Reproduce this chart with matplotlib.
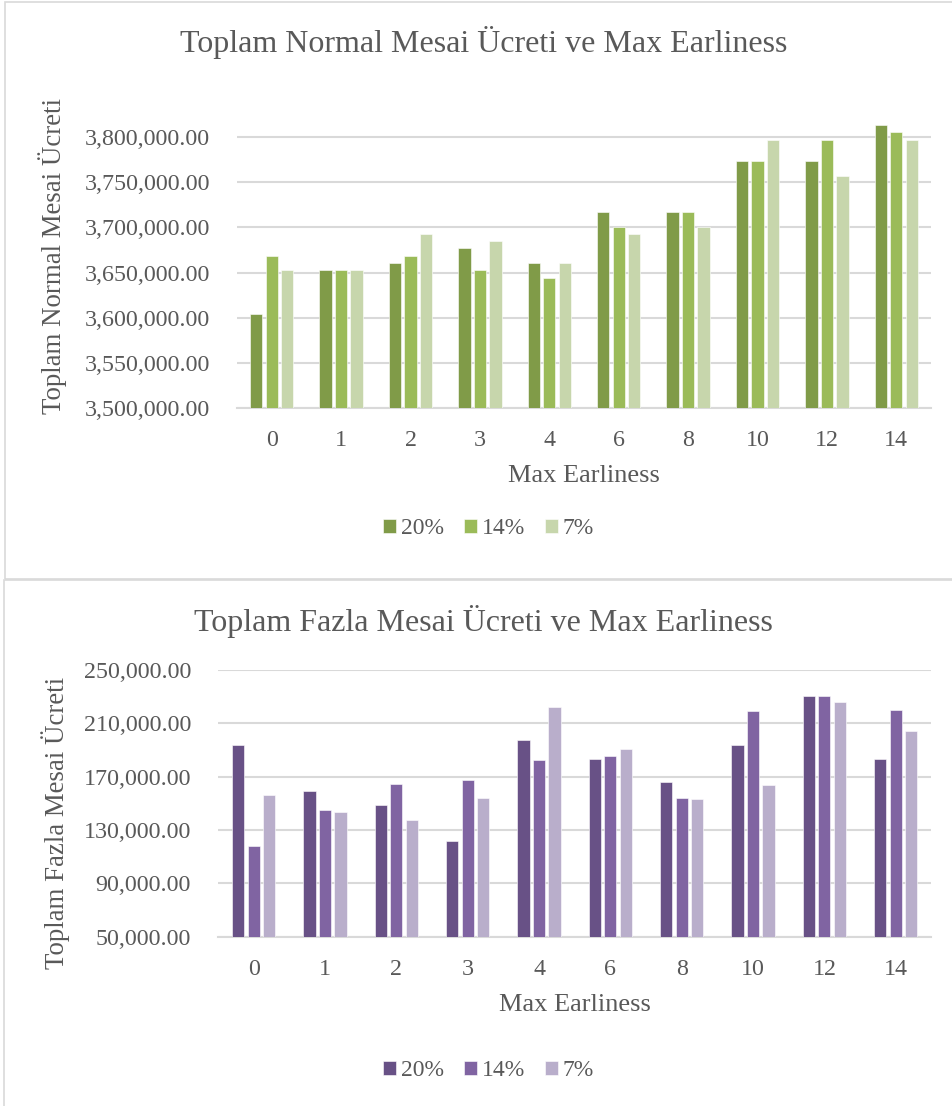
import matplotlib
matplotlib.use("Agg")
import matplotlib.pyplot as plt
from matplotlib.patches import Rectangle
from matplotlib.ticker import FuncFormatter

# Max earliness levels on the x axis
earliness = ['0', '1', '2', '3', '4', '6', '8', '10', '12', '14']
series_names = ['20%', '14%', '7%']

# Total normal overtime wage (Toplam Normal Mesai Ücreti)
normal_20 = [3604000, 3652300, 3660400, 3676900, 3660400,
             3717000, 3717000, 3773100, 3773100, 3813400]
normal_14 = [3668500, 3652300, 3668500, 3652300, 3644300,
             3700800, 3717000, 3773100, 3796900, 3805400]
normal_7 = [3652300, 3652300, 3692700, 3684600, 3660400,
            3692700, 3700800, 3796900, 3756900, 3796900]

# Total extra overtime wage (Toplam Fazla Mesai Ücreti)
extra_20 = [194000, 159000, 148750, 121500, 197250,
            183000, 165750, 193500, 230250, 183250]
extra_14 = [118250, 145250, 164250, 167250, 182750,
            185500, 154000, 219000, 230250, 219750]
extra_7 = [156500, 143500, 137500, 154000, 222000,
           190500, 153000, 164000, 226250, 204000]

greens = ['#809B48', '#9BBB59', '#C7D6AC']
purples = ['#685186', '#8064A2', '#B9AECB']

TEXT = '#595959'
GRID = '#D9D9D9'

plt.rcParams['font.family'] = ['Liberation Serif', 'DejaVu Serif']
plt.rcParams['text.color'] = TEXT


def bar_chart(ax, series, colors, title, ylabel, ylim, step, top_tick,
              width, offset, title_y, legend_y, fig):
    """
    Draws one grouped bar chart in Excel style.

    Parameters
    ----------
    ax : Axes
        Axes to draw on.
    series : Sequence
        One list of values per series.
    colors : Sequence
        Bar colours, one per series.
    title, ylabel : str
        Chart title and y axis label.
    ylim : tuple
        Limits of the value axis.
    step : float
        Distance between the gridlines.
    top_tick : float
        Highest labelled tick.
    width, offset : float
        Bar width and distance between bars in a group.
    title_y, legend_y : float
        Figure positions of the title and the legend.
    fig : Figure
        Figure that holds the chart.
    """
    x = range(len(earliness))
    for i, values in enumerate(series):
        pos = [k + (i - 1) * offset for k in x]
        ax.bar(pos, values, width=width, color=colors[i],
               label=series_names[i], zorder=3,
               edgecolor='white', linewidth=0.4)

    ax.set_xlim(-0.5, len(earliness) - 0.5)
    ax.set_ylim(*ylim)
    ax.set_xticks(list(x))
    ax.set_xticklabels(earliness)

    ticks = []
    t = ylim[0]
    while t <= top_tick + 1:
        ticks.append(t)
        t += step
    ax.set_yticks(ticks)
    ax.yaxis.set_major_formatter(FuncFormatter(lambda v, p: f'{v:,.2f}'))
    ax.grid(axis='y', color=GRID, linewidth=1.5, zorder=0)

    for side in ['top', 'right', 'left']:
        ax.spines[side].set_visible(False)
    ax.spines['bottom'].set_color(GRID)
    ax.spines['bottom'].set_linewidth(1.5)
    ax.tick_params(length=0, colors=TEXT, labelsize=17.3)
    ax.tick_params(axis='y', pad=19.5)
    ax.tick_params(axis='x', pad=16)

    ax.set_xlabel('Max Earliness', fontsize=19, color=TEXT, labelpad=10)
    ax.set_ylabel(ylabel, fontsize=19.4, color=TEXT)

    fig.text(0.508, title_y, title, ha='center', va='baseline',
             fontsize=23, color=TEXT)

    ax.legend(loc='center', bbox_to_anchor=(0.513, legend_y),
              bbox_transform=fig.transFigure, ncol=3, frameon=False,
              fontsize=17, handlelength=0.55, handleheight=0.55,
              handletextpad=0.2, columnspacing=0.85, labelcolor=TEXT)


fig = plt.figure(figsize=(9.52, 11.06), dpi=100)

# Chart panel frames
fig.patches.append(Rectangle((5 / 952, 1 - 579 / 1106), 1.0, 577.5 / 1106,
                             transform=fig.transFigure, fill=False,
                             edgecolor=GRID, linewidth=1.2))
fig.patches.append(Rectangle((4 / 952, -0.01), 1.0, 1 - 580 / 1106 + 0.01,
                             transform=fig.transFigure, fill=False,
                             edgecolor=GRID, linewidth=1.2))

ax1 = fig.add_axes([237 / 952, 1 - 408 / 1106, 694 / 952, 289 / 1106])
bar_chart(ax1, [normal_20, normal_14, normal_7], greens,
          'Toplam Normal Mesai Ücreti ve Max Earliness',
          'Toplam Normal Mesai Ücreti', (3500000, 3820000), 50000, 3800000,
          0.177, 0.223, 1 - 52 / 1106, 1 - 529 / 1106, fig)
ax1.yaxis.set_label_coords(-0.2454, 0.526)

ax2 = fig.add_axes([218 / 952, 1 - 936.7 / 1106, 713.4 / 952, 266.7 / 1106])
bar_chart(ax2, [extra_20, extra_14, extra_7], purples,
          'Toplam Fazla Mesai Ücreti ve Max Earliness',
          'Toplam Fazla Mesai Ücreti', (50000, 250000), 40000, 250000,
          0.171, 0.217, 1 - 631 / 1106, 1 - 1071 / 1106, fig)
ax2.yaxis.set_label_coords(-0.2075, 0.426)

plt.savefig('out.png', dpi=100)
